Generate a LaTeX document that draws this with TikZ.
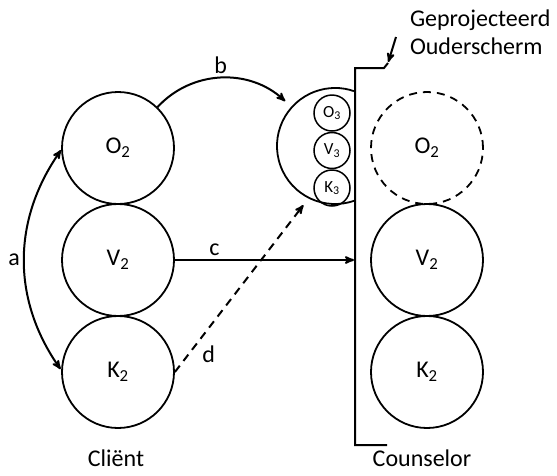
\documentclass[tikz,border=0pt]{standalone}
\usepackage{fontspec}
\setmainfont{Carlito}
\usetikzlibrary{
        arrows,
        positioning
    }
\tikzset{>=stealth',shorten >=1pt,auto,node distance=112pt}
\tikzset{kring/.style={circle,draw,line width=1.8pt,minimum size=112pt,inner sep=0pt}}
\tikzset{klein/.style={circle,draw,line width=1.5pt,minimum size=36pt,inner sep=0pt,font=\fontsize{17}{18}\selectfont}}

\begin{document}
\begin{tikzpicture}[x=1pt,y=-1pt,line width=2pt,font=\fontsize{24}{28}\selectfont]
                    \useasboundingbox (0,0) rectangle (557,475);
                    % client
                    \node[kring] (o2) at (118,148)   {O\textsubscript{2}};
                    \node[kring] (v2) [below of=o2]  {V\textsubscript{2}};
                    \node[kring] (k2) [below of=v2]  {K\textsubscript{2}};
                    \node (client) at (116,458)      {Cliënt};
                    % counselor
                    \node[kring,dashed,dash pattern=on 8pt off 6pt] (co2) at (427,148) {O\textsubscript{2}};
                    \node[kring] (cv2) [below of=co2] {V\textsubscript{2}};
                    \node[kring] (ck2) [below of=cv2] {K\textsubscript{2}};
                    \node (counselor) at (422,458)   {Counselor};
                    % geprojecteerd ouderscherm
                    \node[circle,minimum size=130pt,inner sep=0pt] (ouder) at (335,146) {};
                    \draw[line width=1.8pt] (335,146) ++(70:58) arc (70:290:58);
                    \node[klein] (o3) at (332,113) {O\textsubscript{3}};
                    \node[klein] (v3) [below=0pt of o3] {V\textsubscript{3}};
                    \node[klein] (k3) [below=0pt of v3] {K\textsubscript{3}};
                    \draw (388,63) -- (384,68) -- (355,68) -- (355,445) -- (388,445);
                    \coordinate (scherm) at (355,260);
                    \coordinate (hoek) at (388,63);
                    \coordinate (pijl) at (396,37);
                    \node[align=left,anchor=north west,inner sep=0pt] (titel) at (409,9)
                        {Geprojecteerd\\Ouderscherm};
                    \draw[->] (pijl) -- (hoek);
                    \path[->]
                        (o2.182) edge[bend right=35,<->] node[swap] {a} (k2.178)
                        (o2.46)  edge[bend left=45]  node {b} (ouder.138)
                        (v2.east) edge node[pos=0.22] {c} (scherm)
                        (k2.east) edge[dashed,dash pattern=on 8pt off 6pt] node[pos=0.18,swap] {d} (ouder.242)
                    ;
                \end{tikzpicture}
\end{document}
